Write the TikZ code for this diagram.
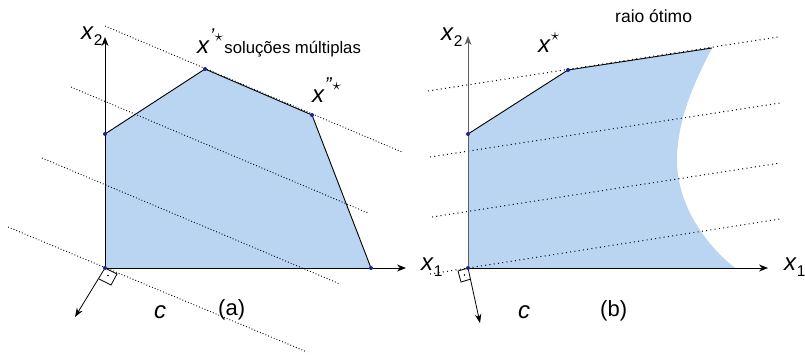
\documentclass[tikz,border=0pt]{standalone}
\usepackage{fontspec}
\setmainfont{Liberation Sans}
\usetikzlibrary{arrows.meta, positioning}
\definecolor{ink}{HTML}{000000}
\definecolor{region}{HTML}{B9D5F2}
\definecolor{vertex}{HTML}{1C2590}
\definecolor{axisgr}{HTML}{5A5F66}
\newcommand{\xsub}[1]{\textit{x}\raisebox{-0.26em}{\fontsize{15.5}{16}\selectfont #1}}
\newcommand{\xsup}[1]{\textit{x}\raisebox{0.45em}{\fontsize{20}{20}\selectfont #1}}
\newcommand{\opt}{\raisebox{0.05em}{\fontsize{19}{19}\selectfont$\star$}}
\tikzset{
  axis/.style={-{Stealth[length=9pt, width=7pt]}, line width=0.9pt, draw=ink},
  edge/.style={line width=0.9pt, draw=ink},
  level/.style={line width=0.9pt, dash pattern=on 0.9pt off 2.1pt},
  levelb/.style={line width=1pt, dash pattern=on 1pt off 3.3pt},
  cvec/.style={-{Stealth[length=9pt, width=6.5pt]}, line width=0.8pt},
  vtx/.style={circle, fill=vertex, inner sep=0pt, minimum size=4pt},
  lbl/.style={font=\fontsize{24}{24}\selectfont, inner sep=0pt, anchor=base west},
  note/.style={font=\fontsize{16.7}{17}\selectfont, inner sep=0pt, anchor=base west},
}

\begin{document}
\begin{tikzpicture}[x=1pt, y=-1pt]
  \useasboundingbox (0,0) rectangle (805,354);

  % (a) multiple optima
  \coordinate (Oa) at (105,268);
  \coordinate (Aa) at (105,134);
  \coordinate (Ba) at (205,69);
  \coordinate (Ca) at (312,115);
  \coordinate (Da) at (371,268);
  \coordinate (x2a) at (105,37);
  \coordinate (x1a) at (406,268);
  \coordinate (ca) at (75,317);
  \fill[region] (Oa) -- (Aa) -- (Ba) -- (Ca) -- (Da) -- cycle;
  \draw[level] (105,26) -- (402,152);
  \draw[level] (71,87) -- (368,213);
  \draw[level] (42,158) -- (340,284);
  \draw[level] (8,227) -- (307,352);
  \draw[axis] (Oa) -- (x2a);
  \draw[axis] (Oa) -- (x1a);
  \draw[edge] (Aa) -- (Ba) -- (Ca) -- (Da);
  \draw[cvec] (Oa) -- (ca);
  \draw[line width=0.8pt] (Oa) -- ++(12,6) -- ++(-6,11) -- ++(-12,-6);
  \fill (108,275.5) circle (0.9pt);
  \foreach \v in {Oa, Aa, Ba, Ca, Da} \node[vtx] at (\v) {};

  \node[lbl] (lx2a) at (81,39) {\xsub{2}};
  \node[lbl] (lx1a) at (421,270) {\xsub{1}};
  \node[lbl] (xpa) at (197,53) {\xsup{\textit{'}\opt}};
  \node[note, right=1pt of xpa.base east, anchor=base west] (multi) {soluções múltiplas};
  \node[lbl] (xppa) at (312,102) {\xsup{\textit{''}\opt}};
  \node[lbl] (lca) at (154,318) {\textit{c}};
  \node[lbl, font=\fontsize{22}{22}\selectfont] (capa) at (218,315) {(a)};

  % (b) optimal ray
  \coordinate (Ob) at (468,268);
  \coordinate (Ab) at (468,134);
  \coordinate (Bb) at (568,70);
  \coordinate (Cb) at (712,48);
  \coordinate (x2b) at (468,36);
  \coordinate (x1b) at (768,268);
  \coordinate (cb) at (480,323);
  \fill[region] (Ob) -- (Ab) -- (Bb) -- (Cb)
    .. controls (690,90) and (677,125) .. (677,160)
    .. controls (677,200) and (700,240) .. (735,268) -- cycle;
  \draw[levelb] (428,91) -- (778,37);
  \draw[levelb] (430,157) -- (780,103);
  \draw[levelb] (432,217) -- (780,163);
  \draw[levelb] (430,274) -- (780,219);
  \draw[axis, draw=axisgr] (Ob) -- (x2b);
  \draw[axis] (Ob) -- (x1b);
  \draw[edge] (Ab) -- (Bb) -- (Cb);
  \draw[cvec] (Ob) -- (cb);
  \draw[line width=0.8pt] (Ob) -- ++(-10,3) -- ++(3,11) -- ++(10,-3);
  \fill (464.5,275) circle (0.9pt);
  \foreach \v in {Ob, Ab, Bb} \node[vtx] at (\v) {};

  \node[lbl] (lx2b) at (441,40) {\xsub{2}};
  \node[lbl] (lx1b) at (784,270) {\xsub{1}};
  \node[lbl] (xsb) at (538,52) {\xsup{\opt}};
  \node[note, font=\fontsize{17.5}{18}\selectfont] (ray) at (615,22.7) {raio ótimo};
  \node[lbl] (lcb) at (518,318) {\textit{c}};
  \node[lbl, font=\fontsize{22}{22}\selectfont] (capb) at (600,316) {(b)};
\end{tikzpicture}
\end{document}
